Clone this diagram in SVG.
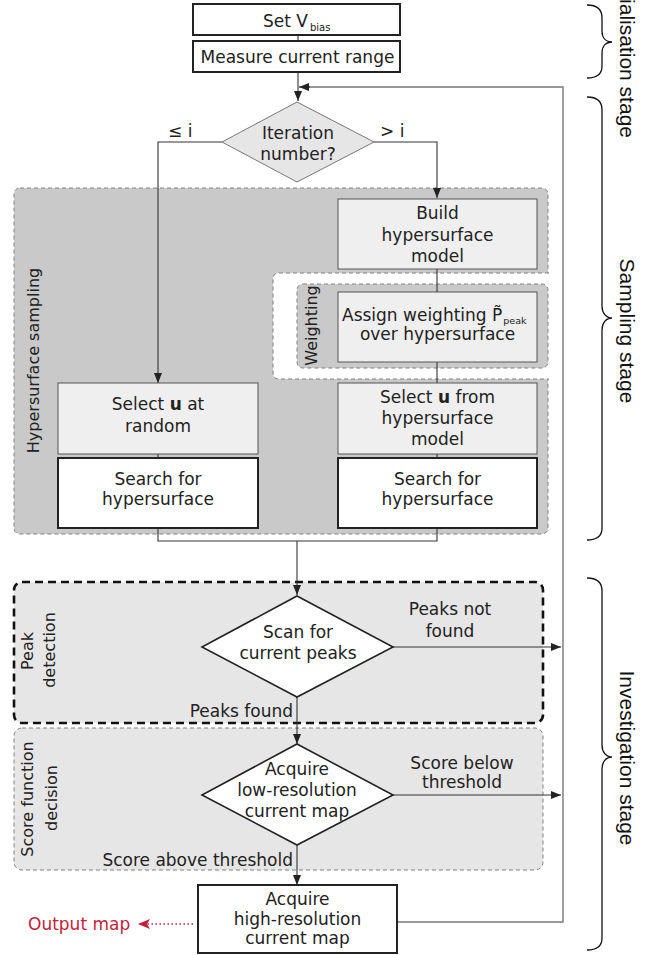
<svg xmlns="http://www.w3.org/2000/svg" width="657" height="955" viewBox="0 0 657 955">
<style>
.t{font-family:"DejaVu Sans","Noto Sans",sans-serif;font-size:17px;fill:#222}
.c{text-anchor:middle}
.rl{font-family:"DejaVu Sans","Noto Sans",sans-serif;font-size:16px;fill:#222;text-anchor:middle}
.st{font-family:"Liberation Sans",Arial,sans-serif;font-size:21px;fill:#111}
.box{fill:#fff;stroke:#222;stroke-width:2}
.lbox{fill:#efefef;stroke:#555;stroke-width:1}
.ln{fill:none;stroke:#333;stroke-width:1.1}
.fb{fill:none;stroke:#777;stroke-width:1.4}
.brace{fill:none;stroke:#111;stroke-width:1.3}
.gd{stroke:#808080;stroke-width:1;stroke-dasharray:4 3}
</style>
<defs>
<marker id="ah" markerUnits="userSpaceOnUse" markerWidth="10" markerHeight="8" refX="10" refY="4" orient="auto">
<path d="M0,0 L10,4 L0,8 z" fill="#222"/>
</marker>
<marker id="ahr" markerUnits="userSpaceOnUse" markerWidth="13" markerHeight="10" refX="12" refY="5" orient="auto">
<path d="M0,0 L12,5 L0,10 L3,5 z" fill="#c41e3a"/>
</marker>
</defs>

<!-- regions -->
<g id="hypersurface-region">
<rect x="14" y="188" width="534" height="346" rx="6" fill="#c9c9c9" class="gd"/>
<path d="M549,273 L279,273 Q273,273 273,279 L273,373 Q273,379 279,379 L549,379" fill="#fff" class="gd"/>
<rect x="297" y="284" width="251" height="84" rx="6" fill="#c9c9c9" class="gd"/>
<text class="rl" transform="rotate(-90 38.5 360.5)" x="38.5" y="360.5">Hypersurface sampling</text>
<text class="rl" transform="rotate(-90 316.5 325.5)" x="316.5" y="325.5">Weighting</text>
</g>
<g id="peak-region">
<rect x="14" y="582" width="529" height="141" rx="8" fill="#e6e6e6" stroke="#111" stroke-width="2.6" stroke-dasharray="8 5"/>
<text class="rl" transform="rotate(-90 33 651)" x="33" y="651">Peak</text>
<text class="rl" transform="rotate(-90 55 650)" x="55" y="650">detection</text>
</g>
<g id="score-region">
<rect x="14" y="728" width="529" height="142" rx="8" fill="#e6e6e6" class="gd"/>
<text class="rl" transform="rotate(-90 33 799)" x="33" y="799">Score function</text>
<text class="rl" transform="rotate(-90 57 798)" x="57" y="798">decision</text>
</g>

<!-- connectors -->
<g id="connectors">
<line class="ln" x1="298" y1="35" x2="298" y2="41"/>
<line class="ln" x1="298" y1="72" x2="298" y2="101" marker-end="url(#ah)"/>
<polyline class="ln" points="222,142 158,142 158,383" marker-end="url(#ah)"/>
<polyline class="ln" points="374,142 437,142 437,198" marker-end="url(#ah)"/>
<line class="ln" x1="437" y1="269" x2="437" y2="292"/>
<line class="ln" x1="437" y1="362" x2="437" y2="383"/>
<line class="ln" x1="437" y1="454" x2="437" y2="458"/>
<line class="ln" x1="158" y1="454" x2="158" y2="458"/>
<polyline class="ln" points="158,528 158,541 437,541 437,528"/>
<line class="ln" x1="297" y1="541" x2="297" y2="595" marker-end="url(#ah)"/>
<line class="ln" x1="297" y1="697" x2="297" y2="744" marker-end="url(#ah)"/>
<line class="ln" x1="297" y1="845" x2="297" y2="885" marker-end="url(#ah)"/>
<line class="ln" x1="393" y1="647" x2="561" y2="647" marker-end="url(#ah)"/>
<line class="ln" x1="393" y1="795" x2="561" y2="795" marker-end="url(#ah)"/>
<polyline class="fb" points="397,922 563,922 563,87 309,87"/>
<line class="ln" x1="310" y1="87" x2="299" y2="87" marker-end="url(#ah)"/>
<line x1="193" y1="924" x2="138" y2="924" stroke="#c41e3a" stroke-width="1.3" stroke-dasharray="1.5 2.5" marker-end="url(#ahr)"/>
<text class="t" x="168" y="137">≤ i</text>
<text class="t" x="380" y="137">&gt; i</text>
<text class="t c" x="450" y="615">Peaks not</text>
<text class="t c" x="450" y="637">found</text>
<text class="t" x="293" y="717" text-anchor="end">Peaks found</text>
<text class="t c" x="462" y="769">Score below</text>
<text class="t c" x="462" y="788">threshold</text>
<text class="t" x="293" y="866" text-anchor="end">Score above threshold</text>
<text class="t" x="28" y="930" style="fill:#c41e3a">Output map</text>
</g>

<!-- nodes -->
<g id="set-vbias">
<rect class="box" x="193" y="4" width="207" height="31"/>
<text class="t" x="263" y="27">Set V<tspan font-size="10" dx="2" dy="4">bias</tspan></text>
</g>
<g id="measure-range">
<rect class="box" x="193" y="41" width="207" height="31"/>
<text class="t c" x="297.5" y="63">Measure current range</text>
</g>
<g id="iteration">
<polygon points="297,102 374,142 297,182 222,142" fill="#e6e6e6" stroke="#777" stroke-width="1"/>
<text class="t c" x="298" y="139">Iteration</text>
<text class="t c" x="298" y="160">number?</text>
</g>
<g id="build-model">
<rect class="lbox" x="338" y="199" width="199" height="70"/>
<text class="t c" x="437.5" y="219">Build</text>
<text class="t c" x="437.5" y="241">hypersurface</text>
<text class="t c" x="437.5" y="262">model</text>
</g>
<g id="assign-weighting">
<rect class="lbox" x="338" y="292" width="199" height="70"/>
<text class="t" x="342" y="321">Assign weighting P̃<tspan font-size="9.5" dx="1" dy="3">peak</tspan></text>
<text class="t c" x="437.5" y="340">over hypersurface</text>
</g>
<g id="select-random">
<rect class="lbox" x="58" y="383" width="200" height="71"/>
<text class="t c" x="158" y="410">Select <tspan font-weight="bold">u</tspan> at</text>
<text class="t c" x="158" y="432">random</text>
</g>
<g id="search-left">
<rect class="box" x="58" y="458" width="200" height="70"/>
<text class="t c" x="158" y="485">Search for</text>
<text class="t c" x="158" y="505">hypersurface</text>
</g>
<g id="select-model">
<rect class="lbox" x="338" y="383" width="199" height="71"/>
<text class="t c" x="437.5" y="403">Select <tspan font-weight="bold">u</tspan> from</text>
<text class="t c" x="437.5" y="424">hypersurface</text>
<text class="t c" x="437.5" y="445">model</text>
</g>
<g id="search-right">
<rect class="box" x="338" y="458" width="199" height="70"/>
<text class="t c" x="437.5" y="485">Search for</text>
<text class="t c" x="437.5" y="505">hypersurface</text>
</g>
<g id="scan-peaks">
<polygon points="297,596 393,647 297,697 202,647" fill="#fff" stroke="#222" stroke-width="1.6"/>
<text class="t c" x="298" y="638">Scan for</text>
<text class="t c" x="298" y="659">current peaks</text>
</g>
<g id="low-res">
<polygon points="297,744 393,795 297,845 202,795" fill="#fff" stroke="#222" stroke-width="1.6"/>
<text class="t c" x="297" y="775">Acquire</text>
<text class="t c" x="297" y="796">low-resolution</text>
<text class="t c" x="297" y="817">current map</text>
</g>
<g id="high-res">
<rect class="box" x="198" y="885" width="199" height="68"/>
<text class="t c" x="297.5" y="905">Acquire</text>
<text class="t c" x="297.5" y="925">high-resolution</text>
<text class="t c" x="297.5" y="944">current map</text>
</g>

<!-- stages -->
<g id="stages">
<path class="brace" d="M587,5 C597,5 602,9 602,18 L602,31 C602,38 606,42 612,42 C606,42 602,46 602,53 L602,66 C602,74 597,78 587,78"/>
<path class="brace" d="M587,97 C597,97 602,101 602,110 L602,306 C602,313 606,318 612,318 C606,318 602,323 602,330 L602,528 C602,536 597,540 587,540"/>
<path class="brace" d="M587,578 C597,578 602,582 602,591 L602,745 C602,752 606,757 612,757 C606,757 602,762 602,769 L602,938 C602,946 597,950 587,950"/>
<text class="st" transform="rotate(90 620 138)" x="620" y="138" text-anchor="end">Initialisation stage</text>
<text class="st" transform="rotate(90 620 331)" x="620" y="331" text-anchor="middle">Sampling stage</text>
<text class="st" transform="rotate(90 620 758)" x="620" y="758" text-anchor="middle">Investigation stage</text>
</g>
</svg>
